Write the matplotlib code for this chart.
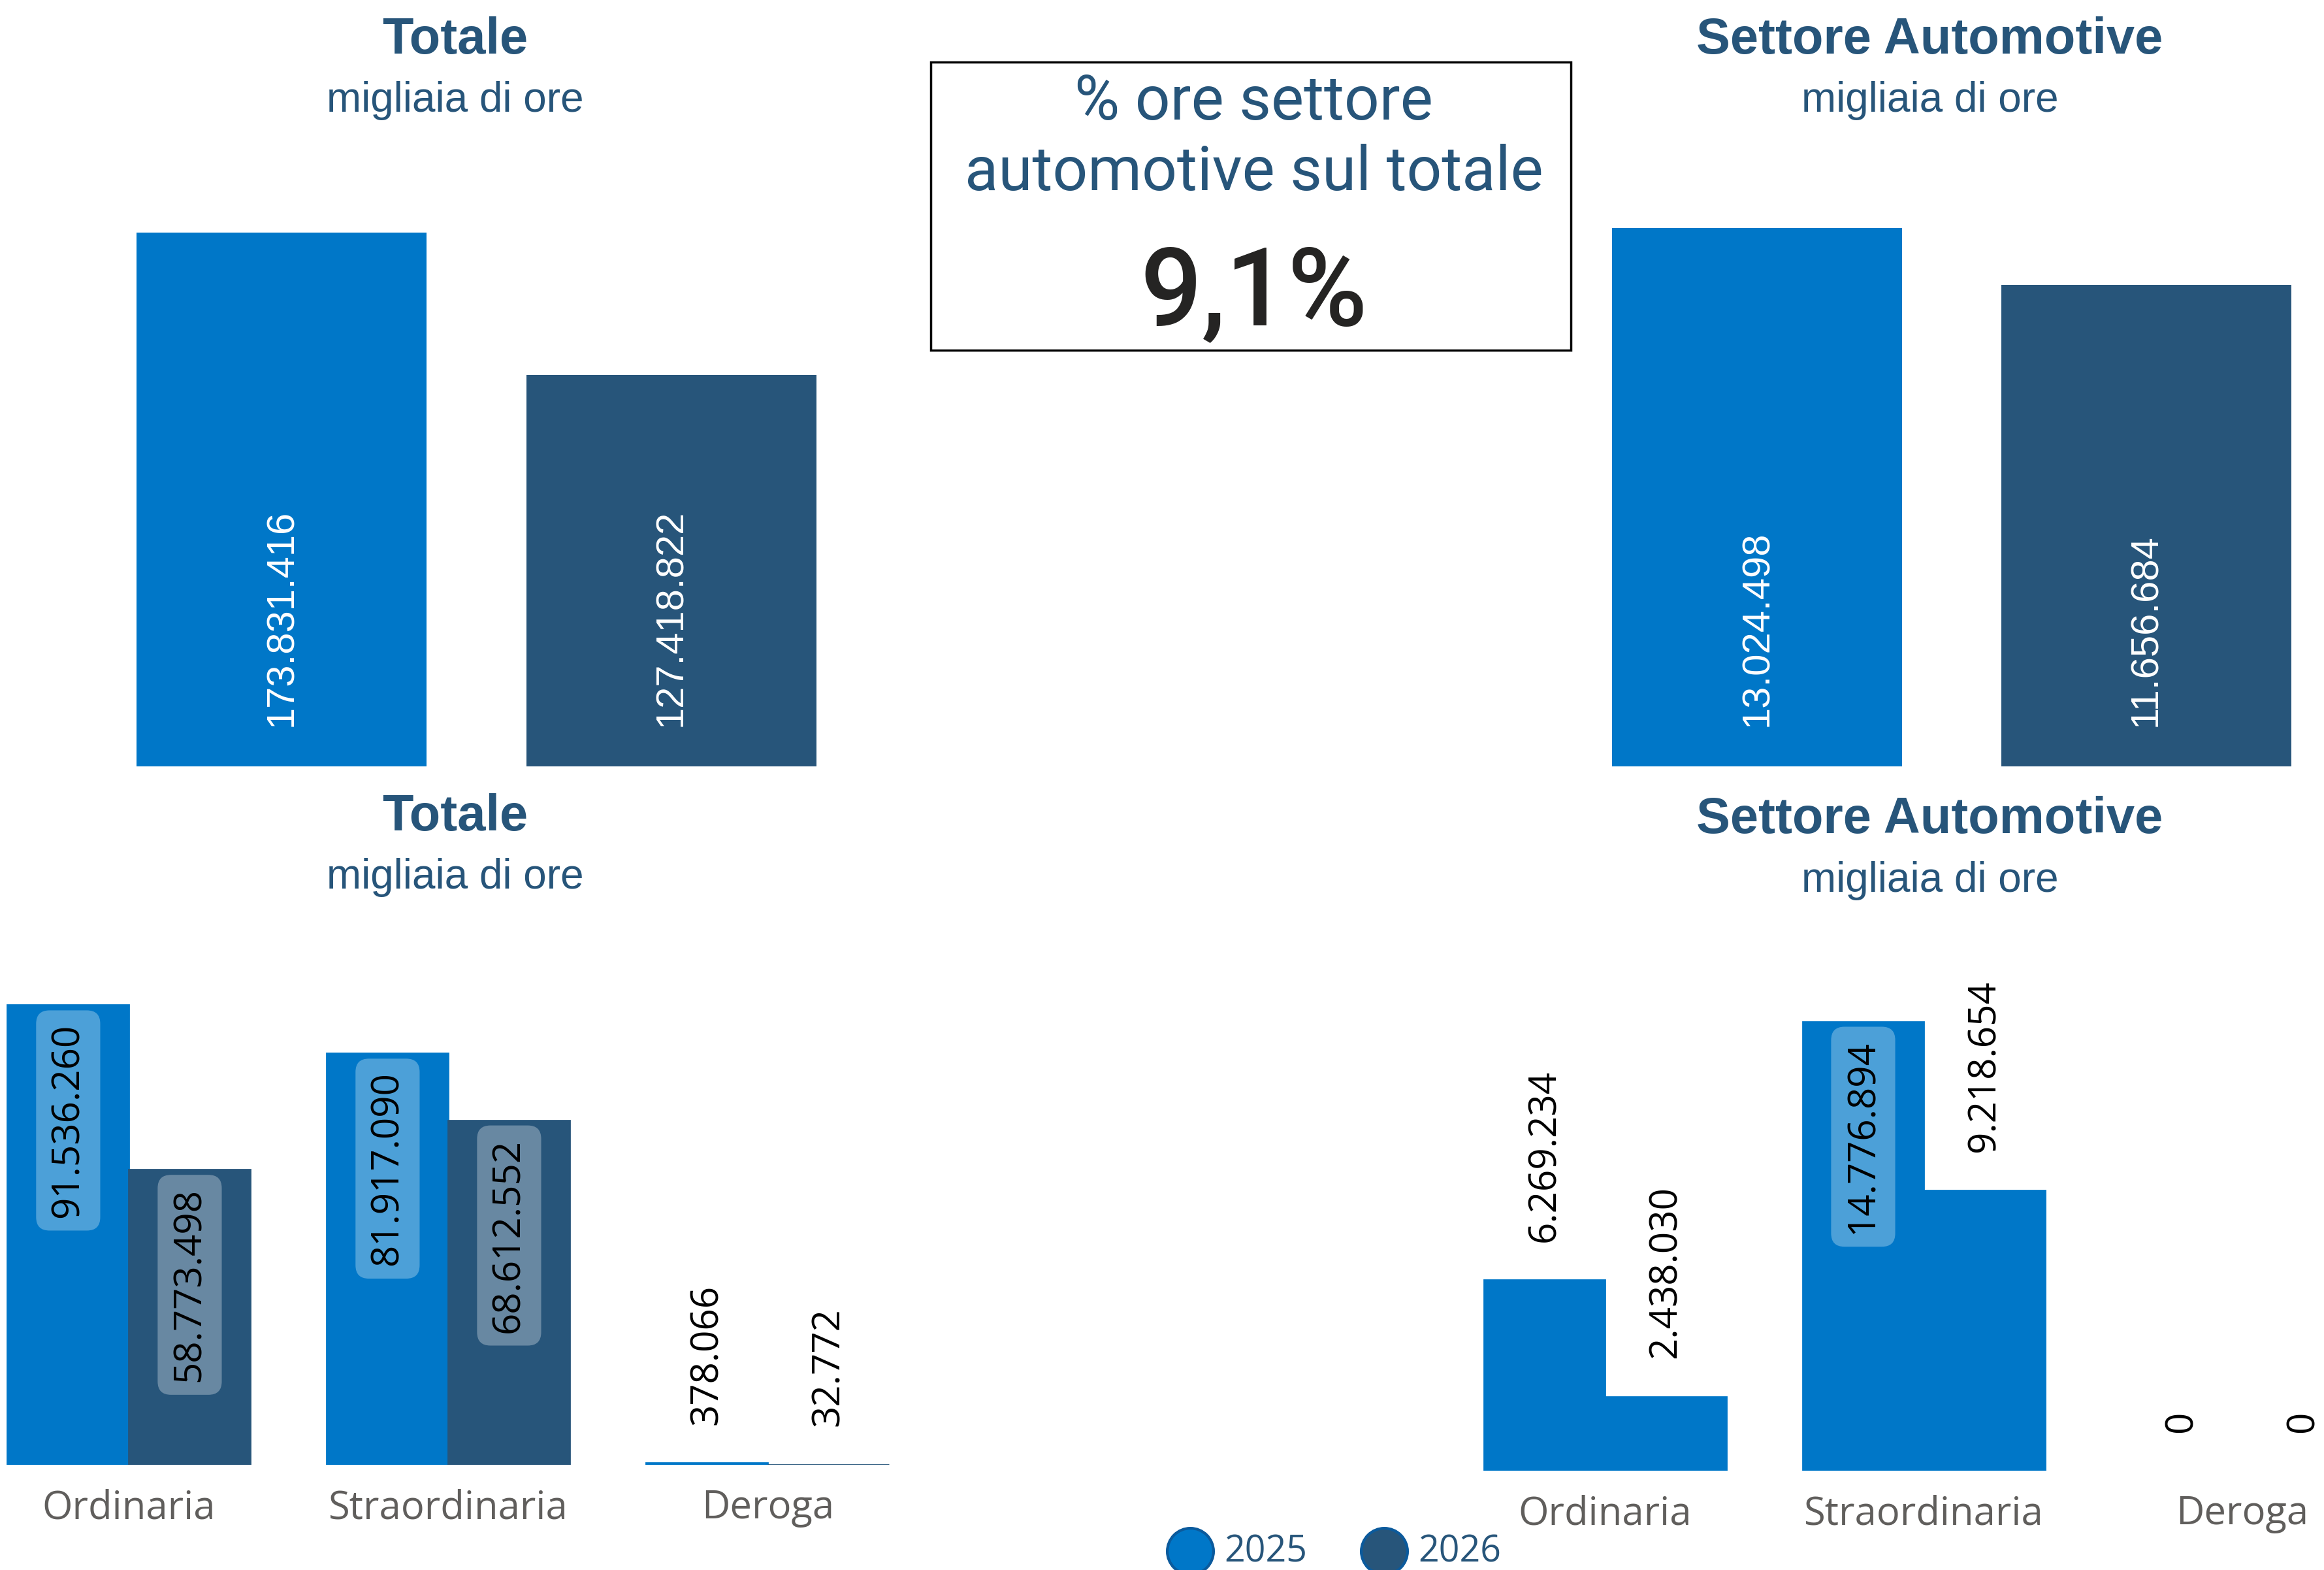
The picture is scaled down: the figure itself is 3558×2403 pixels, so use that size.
import numpy as np
import matplotlib
matplotlib.use("Agg")
import matplotlib.pyplot as plt
from matplotlib.patches import Rectangle

# ---- data ----
years = ["2025", "2026"]
totale = [173831416, 127418822]
automotive = [13024498, 11656684]

categories = ["Ordinaria", "Straordinaria", "Deroga"]
tot_2025 = [91536260, 81917090, 378066]
tot_2026 = [58773498, 68612552, 32772]
auto_2025 = [6269234, 14776894, 0]
auto_2026 = [2438030, 9218654, 0]

quota_auto = "9,1%"

# ---- style ----
BLUE = "#0077C8"
DARK = "#27557A"
TITLE_C = "#27557A"
GRAY = "#605E5C"

W, H = 1568.0, 1059.0   # layout grid of the reference


def fx(x):
    return x / W


def fy(y):
    return 1 - y / H


def fmt(v):
    return "{:,}".format(v).replace(",", ".")


fig = plt.figure(figsize=(35.58, 24.03), dpi=100)
fig.patch.set_facecolor("white")


def clean(ax):
    for s in ax.spines.values():
        s.set_visible(False)
    ax.set_yticks([])
    ax.tick_params(axis="x", length=0)


def top_panel(rect, values, ymax):
    ax = fig.add_axes(rect)
    x = np.arange(len(values))
    ax.bar(x, values, width=0.745, color=[BLUE, DARK])
    for xi, v in zip(x, values):
        ax.annotate(fmt(v), (xi, 0), xytext=(0, 44), textcoords="offset points",
                    rotation=90, ha="center", va="bottom", color="white",
                    fontsize=43, family="Liberation Sans")
    ax.set_xlim(-0.5, 1.5)
    ax.set_ylim(0, ymax)
    ax.set_xticks([])
    clean(ax)
    return ax


def bottom_panel(rect, v25, v26, ymax, xlim, colors, positions):
    ax = fig.add_axes(rect)
    x = np.arange(len(categories))
    w = 0.3805
    # thin edge so that the tiny Deroga bars still show as a line (not for zeros)
    ax.bar(x - w / 2, v25, width=w, color=colors[0], edgecolor=colors[0],
           linewidth=[2 if v else 0 for v in v25])
    ax.bar(x + w / 2, v26, width=w, color=colors[1], edgecolor=colors[1],
           linewidth=[2 if v else 0 for v in v26])
    for i in range(len(categories)):
        for j, (xi, v) in enumerate([(x[i] - w / 2, v25[i]), (x[i] + w / 2, v26[i])]):
            if positions[i][j] == "in":
                ax.annotate(fmt(v), (xi, v), xytext=(0, -20), textcoords="offset points",
                            rotation=90, ha="center", va="top", color="black",
                            fontsize=42, family="Open Sans",
                            bbox=dict(boxstyle="round,pad=0.34,rounding_size=0.35",
                                      fc=(1, 1, 1, 0.3), ec="none"))
            else:
                ax.annotate(fmt(v), (xi, v), xytext=(0, 42), textcoords="offset points",
                            rotation=90, ha="center", va="bottom", color="black",
                            fontsize=42, family="Open Sans")
    ax.set_xlim(*xlim)
    ax.set_ylim(0, ymax)
    ax.set_xticks(x)
    ax.set_xticklabels(categories, fontsize=43, color=GRAY, family="Open Sans")
    ax.tick_params(axis="x", pad=26)
    clean(ax)
    return ax


# top charts
top_panel([fx(58.5), fy(517), 526 / W, 380 / H], totale, 183.5e6)
top_panel([fx(1054.25), fy(517), 525 / W, 380 / H], automotive, 13.63e6)

# bottom charts
bottom_panel([0, fy(988), 625.75 / W, 348 / H], tot_2025, tot_2026, 102.76e6,
             (-0.4037, 2.5), [BLUE, DARK],
             [["in", "in"], ["in", "in"], ["out", "out"]])
bottom_panel([fx(975.5), fy(992), 592.5 / W, 352 / H], auto_2025, auto_2026, 17.17e6,
             (-0.5, 2.256), [BLUE, BLUE],
             [["out", "out"], ["in", "out"], ["out", "out"]])

# titles
for xc, yt, ys, t in [(307, 27, 68, "Totale"), (1302, 27, 68, "Settore Automotive"),
                      (307, 551, 592, "Totale"), (1302, 553, 594, "Settore Automotive")]:
    fig.text(fx(xc), fy(yt), t, ha="center", va="center", fontsize=56,
             fontweight="bold", color=TITLE_C, family="Liberation Sans")
    fig.text(fx(xc), fy(ys), "migliaia di ore", ha="center", va="center",
             fontsize=46, color=TITLE_C, family="Liberation Sans")

# KPI card
fig.add_artist(Rectangle((fx(628), fy(236)), (1060 - 628) / W, (236 - 42) / H,
                         transform=fig.transFigure, fill=False, ec="black", lw=2.5))
fig.text(fx(846), fy(69), "% ore settore", ha="center", va="center",
         fontsize=68, color=TITLE_C, family="Roboto")
fig.text(fx(846), fy(117), "automotive sul totale", ha="center", va="center",
         fontsize=68, color=TITLE_C, family="Roboto")
fig.text(fx(846), fy(199), quota_auto, ha="center", va="center",
         fontsize=120, color="#252423", family="Roboto", fontweight="medium")

# legend
lg = fig.add_axes([0, 0, 1, 1])
lg.set_xlim(0, W)
lg.set_ylim(H, 0)
lg.axis("off")
lg.patch.set_alpha(0)
for (cx, tx), c, lab in zip([(803, 826), (934, 957)], [BLUE, DARK], years):
    lg.scatter([cx], [1046], s=2600, color=c, edgecolors="#0B5A9C", linewidths=3,
               clip_on=False)
    lg.text(tx, 1047, lab, ha="left", va="center", fontsize=40, color=TITLE_C,
            family="Open Sans")

fig.savefig("out.png", dpi=100, facecolor="white")
